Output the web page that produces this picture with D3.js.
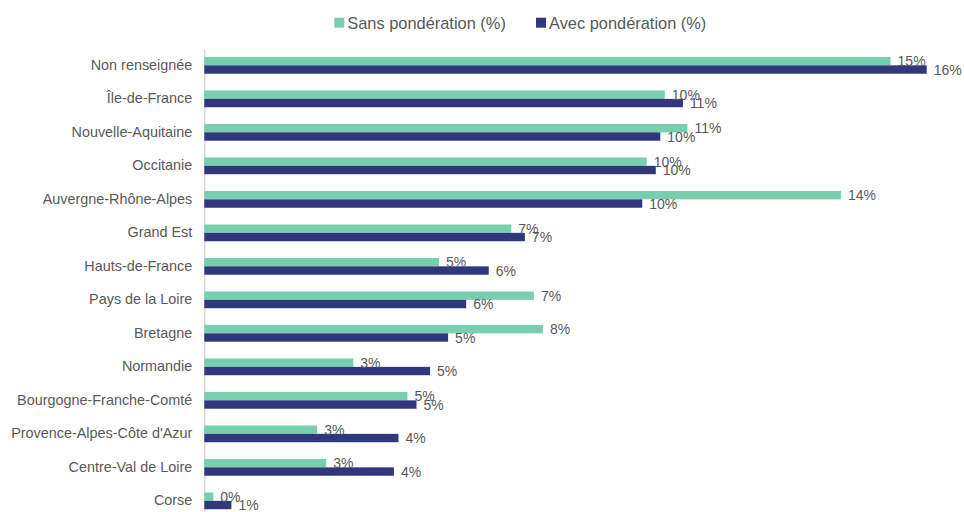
<!DOCTYPE html>
<html>
<head>
<meta charset="utf-8">
<script src="https://cdn.jsdelivr.net/npm/d3@7"></script>
<style>
  body { margin: 0; background: #fff; }
  svg { display: block; font-family: "Liberation Sans", Arial, sans-serif; }
</style>
</head>
<body>
<svg id="chart" width="964" height="512"></svg>
<script>
const regions = [
  "Non renseignée", "Île-de-France", "Nouvelle-Aquitaine", "Occitanie",
  "Auvergne-Rhône-Alpes", "Grand Est", "Hauts-de-France", "Pays de la Loire",
  "Bretagne", "Normandie", "Bourgogne-Franche-Comté",
  "Provence-Alpes-Côte d'Azur", "Centre-Val de Loire", "Corse"
];
const sansPonderation = [15.2, 10.2, 10.7, 9.8, 14.1, 6.8, 5.2, 7.3, 7.5, 3.3, 4.5, 2.5, 2.7, 0.2];
const avecPonderation = [16.0, 10.6, 10.1, 10.0, 9.7, 7.1, 6.3, 5.8, 5.4, 5.0, 4.7, 4.3, 4.2, 0.6];
const seriesNames = ["Sans pondération (%)", "Avec pondération (%)"];
const seriesColors = ["#78cfb0", "#31377c"];

const data = regions.map((r, i) => ({
  region: r,
  values: [sansPonderation[i], avecPonderation[i]]
}));

const svg = d3.select("#chart");
const textColor = "#595959";

const x = d3.scaleLinear()
  .domain([0, 18])
  .range([204.3, 204.3 + 18 * 45.15]);

const y = d3.scaleBand()
  .domain(regions)
  .range([48.6, 517.6])
  .paddingInner(0.5)
  .paddingOuter(0.25);

const ySub = d3.scaleBand()
  .domain([0, 1])
  .range([0, y.bandwidth()]);

// axe vertical + libellés des régions
const yAxis = svg.append("g")
  .attr("transform", `translate(${x(0)},0)`)
  .call(d3.axisLeft(y).tickSize(0).tickPadding(12));
yAxis.select(".domain").attr("stroke", "#d9d9d9").attr("stroke-width", 1.5);
yAxis.selectAll("text")
  .attr("fill", textColor)
  .style("font-size", "14.4px")
  .style("font-family", "'Liberation Sans', Arial, sans-serif");

const groups = svg.append("g")
  .selectAll("g")
  .data(data)
  .enter()
  .append("g")
  .attr("transform", d => `translate(0,${y(d.region)})`);

groups.selectAll("rect")
  .data(d => d.values.map((v, k) => ({ v, k })))
  .enter()
  .append("rect")
  .attr("x", x(0))
  .attr("y", d => ySub(d.k))
  .attr("width", d => x(d.v) - x(0))
  .attr("height", ySub.bandwidth())
  .attr("fill", d => seriesColors[d.k]);

groups.selectAll("text")
  .data(d => d.values.map((v, k) => ({ v, k })))
  .enter()
  .append("text")
  .attr("x", d => x(d.v) + 7)
  .attr("y", d => ySub(d.k) + ySub.bandwidth() / 2)
  .attr("dy", "0.36em")
  .attr("fill", textColor)
  .style("font-size", "14px")
  .text(d => Math.round(d.v) + "%");

// légende
const legendX = [334.3, 536];
const legend = svg.append("g")
  .selectAll("g")
  .data(seriesNames)
  .enter()
  .append("g")
  .attr("transform", (d, i) => `translate(${legendX[i]},17.7)`);

legend.append("rect")
  .attr("width", 10)
  .attr("height", 10)
  .attr("fill", (d, i) => seriesColors[i]);

legend.append("text")
  .attr("x", 13)
  .attr("y", 5)
  .attr("dy", "0.36em")
  .attr("fill", textColor)
  .style("font-size", "16.4px")
  .text(d => d);
</script>
</body>
</html>
